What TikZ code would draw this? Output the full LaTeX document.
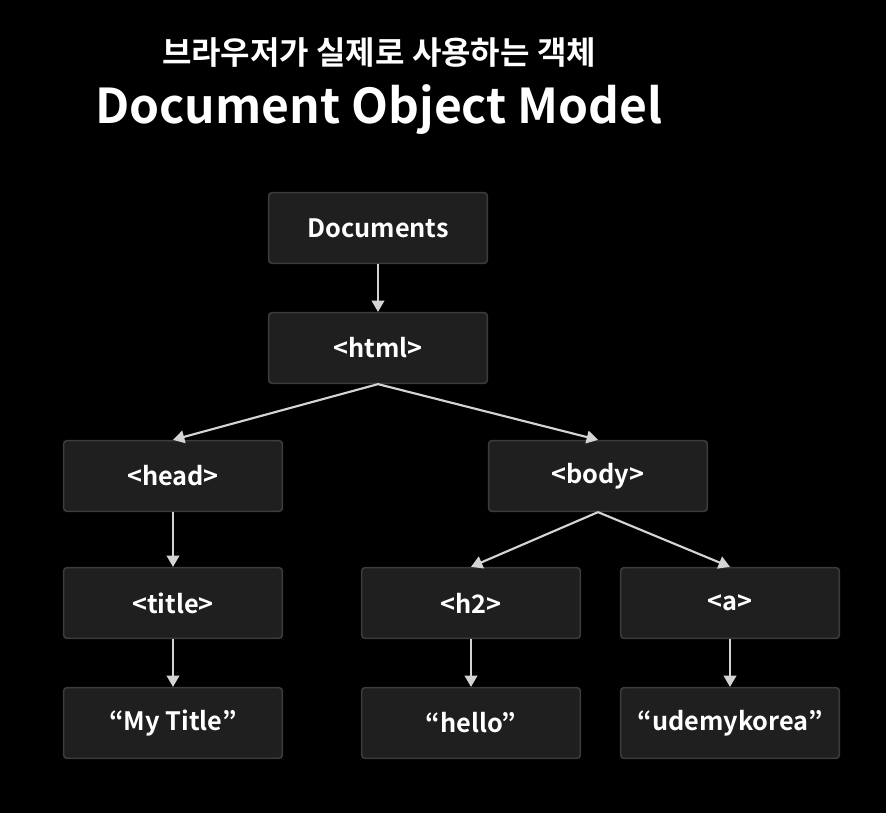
\documentclass[tikz,border=0pt]{standalone}
\usepackage{fontspec}
\setmainfont{Noto Sans CJK KR}[BoldFont={Noto Sans CJK KR Bold}]
\usepackage{xcolor}
\usepackage{tikz}
\usetikzlibrary{arrows.meta,positioning}

\definecolor{boxfill}{HTML}{1F1F1F}
\definecolor{boxline}{HTML}{3C3C3C}
\definecolor{linkgray}{HTML}{D4D4D4}

\begin{document}
\begin{tikzpicture}[
  x=0.75pt, y=-0.75pt,
  domnode/.style={draw=boxline, fill=boxfill, line width=1.2pt, rounded corners=2.5pt,
    minimum width=164pt, minimum height=53pt, inner sep=0pt, text=white,
    font=\fontsize{19}{22}\selectfont\bfseries},
  link/.style={draw=linkgray, line width=1.6pt, -{Triangle[length=8.5pt,width=9.5pt]}}
]
% background
\fill[black] (0,0) rectangle (886,813);
\useasboundingbox (0,0) rectangle (886,813);
% titles
\node[text=white, font=\fontsize{24}{28}\selectfont\bfseries] (subtitle) at (379,53) {브라우저가 실제로 사용하는 객체};
\node[text=white, font=\fontsize{36}{42}\selectfont\bfseries] (title) at (379,110) {Document Object Model};
% tree
\node[domnode] (doc) at (378,228) {Documents};
\node[domnode] (html) at (378,348) {<html>};
\node[domnode] (head) at (173,476) {<head>};
\node[domnode] (body) at (598,476) {<body>};
\node[domnode] (ttl) at (173,603) {<title>};
\node[domnode] (h2) at (471,603) {<h2>};
\node[domnode] (anchor) at (730,603) {<a>};
\node[domnode] (mytitle) at (173,723) {“My Title”};
\node[domnode] (hello) at (471,723) {“hello”};
\node[domnode] (udemy) at (730,723) {“udemykorea”};
% links
\draw[link] (doc.south) -- (html.north);
\draw[link] (html.south) -- (head.north);
\draw[link] (html.south) -- (body.north);
\draw[link] (head.south) -- (ttl.north);
\draw[link] (body.south) -- (h2.north);
\draw[link] (body.south) -- (anchor.north);
\draw[link] (ttl.south) -- (mytitle.north);
\draw[link] (h2.south) -- (hello.north);
\draw[link] (anchor.south) -- (udemy.north);
\end{tikzpicture}
\end{document}
